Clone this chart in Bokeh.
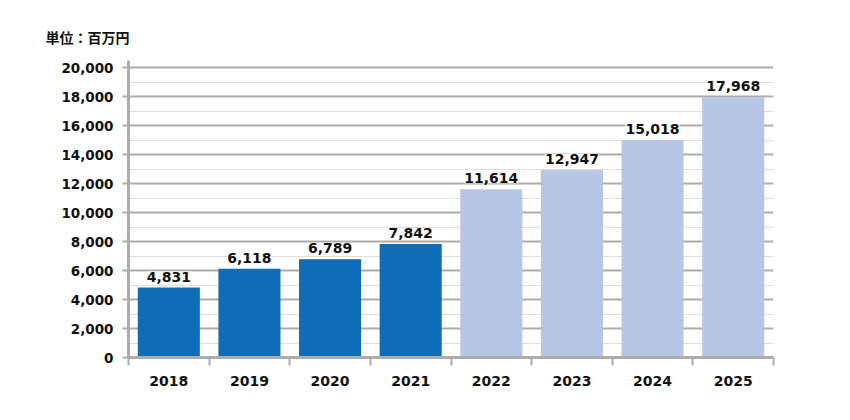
from bokeh.plotting import figure
from bokeh.models import (ColumnDataSource, Range1d, FixedTicker, LinearAxis,
                          LabelSet, NumeralTickFormatter)
from bokeh.core.properties import value
from bokeh.embed import file_html
from bokeh.resources import INLINE

years = ["2018", "2019", "2020", "2021", "2022", "2023", "2024", "2025"]
values = [4831, 6118, 6789, 7842, 11614, 12947, 15018, 17968]
kind = ["actual", "actual", "actual", "actual", "forecast", "forecast", "forecast", "forecast"]
y_ticks = [0, 2000, 4000, 6000, 8000, 10000, 12000, 14000, 16000, 18000, 20000]
unit_label = "単位：百万円"

palette = {"actual": "#0f6db7", "forecast": "#b8c6e6"}

src = ColumnDataSource(dict(
    x=[i + 0.5 for i in range(len(years))],
    top=values,
    color=[palette[k] for k in kind],
    label=[f"{v:,}" for v in values],
))

GRAY = "#acacac"
FONT = "DejaVu Sans"

p = figure(width=842, height=412, output_backend="svg", toolbar_location=None,
           x_range=Range1d(0, len(years)), y_range=Range1d(0, 20500),
           min_border_left=128, min_border_right=69, min_border_top=60,
           min_border_bottom=55, x_axis_location=None, outline_line_color=None)

p.title.text = unit_label
p.title.align = "left"
p.title.offset = -83
p.title.text_font = "Noto Sans CJK JP"
p.title.text_font_size = "14px"
p.title.text_font_style = "bold"
p.title.text_color = "#111111"
p.title.standoff = 28

# y axis
yax = p.yaxis[0]
yax.ticker = FixedTicker(ticks=y_ticks, minor_ticks=[t + 1000 for t in y_ticks[:-1]])
yax.formatter = NumeralTickFormatter(format="0,0")
yax.axis_line_color = GRAY
yax.axis_line_width = 3
yax.major_tick_line_color = GRAY
yax.major_tick_line_width = 2
yax.major_tick_out = 6
yax.major_tick_in = 0
yax.minor_tick_line_color = None
yax.major_label_standoff = 9
yax.major_label_text_font = FONT
yax.major_label_text_font_size = "13.5px"
yax.major_label_text_font_style = "bold"
yax.major_label_text_color = "#111111"

p.xgrid.grid_line_color = None
p.ygrid.grid_line_color = GRAY
p.ygrid.grid_line_width = 2
p.ygrid.minor_grid_line_color = "#dedede"
p.ygrid.minor_grid_line_width = 1

# x axis: boundary ticks
n = len(years)
xtick_ax = LinearAxis(ticker=FixedTicker(ticks=list(range(n + 1))),
                      major_label_overrides={i: "" for i in range(n + 1)},
                      major_label_text_font_size="0px", major_label_standoff=0,
                      axis_line_color=GRAY, axis_line_width=3,
                      major_tick_line_color=GRAY, major_tick_line_width=2,
                      major_tick_out=8, major_tick_in=0,
                      minor_tick_line_color=None)
p.add_layout(xtick_ax, "below")

# x axis: year labels
centers = [i + 0.5 for i in range(n)]
xlab_ax = LinearAxis(ticker=FixedTicker(ticks=centers),
                     major_label_overrides={c: y for c, y in zip(centers, years)},
                     axis_line_color=None, major_tick_line_color=None,
                     minor_tick_line_color=None, major_label_standoff=4,
                     major_label_text_font=FONT, major_label_text_font_size="14px",
                     major_label_text_font_style="bold",
                     major_label_text_color="#111111")
p.add_layout(xlab_ax, "below")

p.vbar(x="x", top="top", width=0.77, color="color", source=src, line_color=None)

labels = LabelSet(x="x", y="top", text="label", source=src, text_align="center",
                  text_baseline="bottom", y_offset=6,
                  text_font=value(FONT), text_font_size=value("14px"),
                  text_font_style=value("bold"),
                  text_color="#111111", background_fill_color="white")
p.add_layout(labels)

open("out.html", "w").write(file_html(p, INLINE))
